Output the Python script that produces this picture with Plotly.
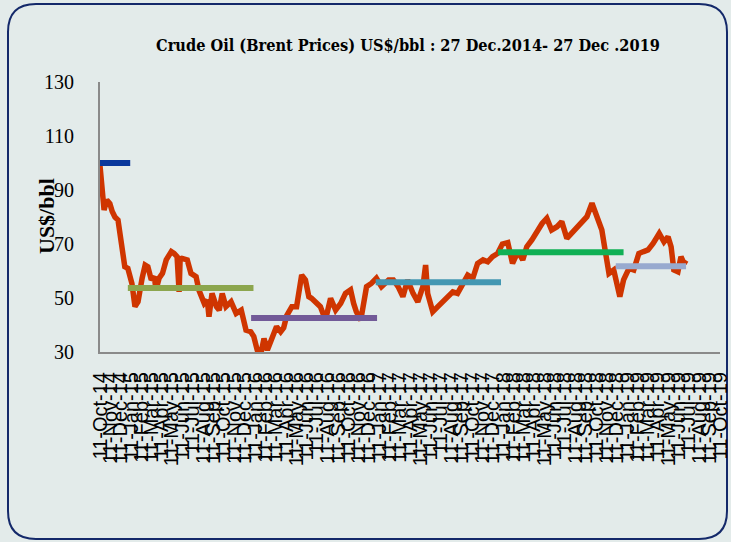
import pandas as pd
import plotly.graph_objects as go

# Brent price
dates = ["2014-10-11","2014-10-20","2014-10-23","2014-10-31","2014-11-09","2014-11-16","2014-11-24",
         "2014-12-03","2014-12-09","2014-12-14","2014-12-23","2015-01-01","2015-01-13","2015-01-22",
         "2015-01-31","2015-02-12","2015-02-21","2015-03-01","2015-03-11","2015-03-20","2015-03-25",
         "2015-04-03","2015-04-13","2015-04-24","2015-05-09","2015-05-17","2015-05-26","2015-06-01",
         "2015-06-04","2015-06-09","2015-06-25","2015-07-06","2015-07-21","2015-07-29","2015-08-14",
         "2015-08-23","2015-08-28","2015-09-06","2015-09-19","2015-09-27","2015-10-06","2015-10-17",
         "2015-11-01","2015-11-16","2015-12-01","2015-12-15","2015-12-29","2016-01-07","2016-01-17",
         "2016-01-28","2016-02-06","2016-02-16","2016-02-27","2016-03-07","2016-03-14","2016-03-26",
         "2016-04-04","2016-04-13","2016-04-28","2016-05-12","2016-05-27","2016-06-07","2016-06-17",
         "2016-06-25","2016-07-10","2016-07-21","2016-08-05","2016-08-20","2016-09-04","2016-09-19",
         "2016-10-03","2016-10-18","2016-10-27","2016-11-04","2016-11-17","2016-11-25","2016-12-04",
         "2016-12-18","2017-01-02","2017-01-17","2017-02-07","2017-02-21","2017-03-07","2017-03-21",
         "2017-04-04","2017-04-20","2017-05-04","2017-05-19","2017-05-27","2017-06-02","2017-06-17",
         "2017-07-02","2017-07-16","2017-07-31","2017-08-15","2017-08-29","2017-09-14","2017-09-28",
         "2017-10-13","2017-10-27","2017-11-12","2017-11-26","2017-12-10","2017-12-25","2018-01-08",
         "2018-01-24","2018-02-07","2018-02-23","2018-03-09","2018-03-21","2018-04-05","2018-04-20",
         "2018-05-05","2018-05-19","2018-06-02","2018-06-18","2018-07-02","2018-07-17","2018-07-31",
         "2018-08-16","2018-08-30","2018-09-14","2018-09-29","2018-10-13","2018-10-28","2018-11-05",
         "2018-11-18","2018-12-02","2018-12-11","2018-12-20","2018-12-31","2019-01-16","2019-01-30",
         "2019-02-14","2019-02-28","2019-03-13","2019-03-28","2019-04-15","2019-04-29","2019-05-11",
         "2019-05-20","2019-05-28","2019-06-09","2019-06-18","2019-06-27","2019-07-03"]
prices = [99.0, 88.7, 82.6, 86.3, 85.0, 82.0, 80.0,
          78.9, 72.7, 67.8, 61.6, 61.0, 55.4, 46.8,
          48.6, 57.3, 62.2, 61.6, 56.7, 57.9, 53.0,
          57.3, 59.1, 64.1, 67.2, 66.5, 65.3, 52.3,
          64.5, 64.7, 64.1, 59.1, 57.9, 53.0, 48.0,
          49.2, 43.1, 51.7, 46.8, 45.5, 51.7, 46.8,
          48.6, 44.3, 45.5, 38.1, 37.5, 35.7, 30.7,
          29.5, 35.0, 30.7, 34.4, 36.9, 39.4, 37.5,
          39.0, 43.5, 46.8, 46.8, 58.5, 56.7, 50.5,
          49.9, 48.0, 46.8, 41.8, 49.9, 45.5, 48.0,
          51.7, 53.0, 48.0, 44.9, 41.8, 48.0, 54.2,
          55.4, 57.3, 54.2, 56.7, 56.7, 54.2, 50.5,
          56.7, 51.7, 48.6, 54.2, 62.2, 51.7, 44.9,
          46.8, 48.6, 50.5, 52.3, 51.7, 55.4, 58.5,
          57.3, 62.8, 64.1, 63.4, 65.3, 66.5, 70.0,
          70.5, 62.8, 67.2, 64.1, 69.0, 71.5, 74.6,
          77.6, 79.5, 75.2, 76.4, 78.3, 72.1, 73.9,
          75.8, 78.3, 80.1, 85.1, 80.1, 75.2, 69.0,
          59.1, 60.4, 55.4, 50.5, 56.7, 61.0, 60.4,
          66.5, 67.2, 67.8, 70.2, 73.9, 70.8, 72.7,
          69.0, 60.4, 59.7, 65.3, 62.8, 64.0]

# Yearly averages (segment start, end, value, colour)
avg_start = ["2014-10-11", "2015-01-01", "2015-12-30", "2016-12-31", "2017-12-26", "2018-12-08"]
avg_end = ["2015-01-08", "2016-01-06", "2017-01-04", "2018-01-04", "2018-12-31", "2019-07-03"]
avg_value = [100.0, 53.7, 42.6, 55.8, 66.9, 61.8]
avg_color = ["#0A389C", "#8CA64E", "#725A98", "#4397B2", "#10B055", "#98AACF"]

tick_dates = pd.date_range("2014-10-11", "2019-10-11", freq=pd.DateOffset(months=1))
tick_vals = [d.strftime("%Y-%m-%d") for d in tick_dates]
tick_text = [d.strftime("%d-%b-%y") for d in tick_dates]

BG = "#E3EBEA"
SERIF = "Liberation Serif"

fig = go.Figure()
fig.add_trace(go.Scatter(x=dates, y=prices, mode="lines",
                         line=dict(color="#CF3500", width=5.5), showlegend=False,
                         hoverinfo="skip"))
for s, e, v, c in zip(avg_start, avg_end, avg_value, avg_color):
    fig.add_trace(go.Scatter(x=[s, e], y=[v, v], mode="lines",
                             line=dict(color=c, width=6), showlegend=False,
                             hoverinfo="skip"))

# plot area in pixels
L, R, T, B = 100, 720, 82, 352
W, H = 731, 542

def xp(px):
    return (px - L) / (R - L)

def yp(py):
    return (B - py) / (B - T)

# rounded frame
fx0, fx1, fy0, fy1, r = 8, 727, 4, 539, 28
path = (f"M {xp(fx0+r)} {yp(fy0)} L {xp(fx1-r)} {yp(fy0)} "
        f"Q {xp(fx1)} {yp(fy0)} {xp(fx1)} {yp(fy0+r)} "
        f"L {xp(fx1)} {yp(fy1-r)} Q {xp(fx1)} {yp(fy1)} {xp(fx1-r)} {yp(fy1)} "
        f"L {xp(fx0+r)} {yp(fy1)} Q {xp(fx0)} {yp(fy1)} {xp(fx0)} {yp(fy1-r)} "
        f"L {xp(fx0)} {yp(fy0+r)} Q {xp(fx0)} {yp(fy0)} {xp(fx0+r)} {yp(fy0)} Z")
fig.add_shape(type="path", path=path, xref="paper", yref="paper",
              line=dict(color="#14296A", width=2), fillcolor="rgba(0,0,0,0)", layer="below")

fig.add_annotation(text="<b>US$/bbl</b>", xref="paper", yref="paper",
                   x=xp(46), y=yp(216), xanchor="center", yanchor="middle",
                   textangle=-90, showarrow=False,
                   font=dict(family=SERIF, size=22, color="black"))

fig.update_layout(
    width=W, height=H,
    margin=dict(l=L, r=W - R, t=T, b=H - B, autoexpand=False),
    paper_bgcolor=BG, plot_bgcolor=BG,
    title=dict(text="<b>Crude Oil (Brent Prices) US$/bbl : 27 Dec.2014- 27 Dec .2019</b>",
               x=(408 - L) / (R - L), xref="paper", xanchor="center",
               y=1 - 45 / H, yref="container", yanchor="middle",
               font=dict(family="DejaVu Serif Condensed, Liberation Serif", size=16.2, color="black")),
    xaxis=dict(type="date", range=["2014-10-11", "2019-10-11"],
               tickmode="array", tickvals=tick_vals, ticktext=tick_text,
               tickangle=-90, tickfont=dict(family="Liberation Sans", size=20, color="black"),
               ticklabelstandoff=10, showgrid=False, zeroline=False,
               showline=True, linecolor="#8A8A8A", linewidth=2, ticks="",
               automargin=False),
    yaxis=dict(range=[30, 130], tickmode="array", tickvals=[30, 50, 70, 90, 110, 130],
               tickfont=dict(family=SERIF, size=20, color="black"),
               ticklabelstandoff=20, showgrid=False, zeroline=False,
               showline=True, linecolor="#8A8A8A", linewidth=2, ticks="",
               automargin=False),
)

fig.write_html("out.html", config={"displayModeBar": False},
               post_script="document.body.style.margin='0';document.body.style.background='" + BG + "';")
